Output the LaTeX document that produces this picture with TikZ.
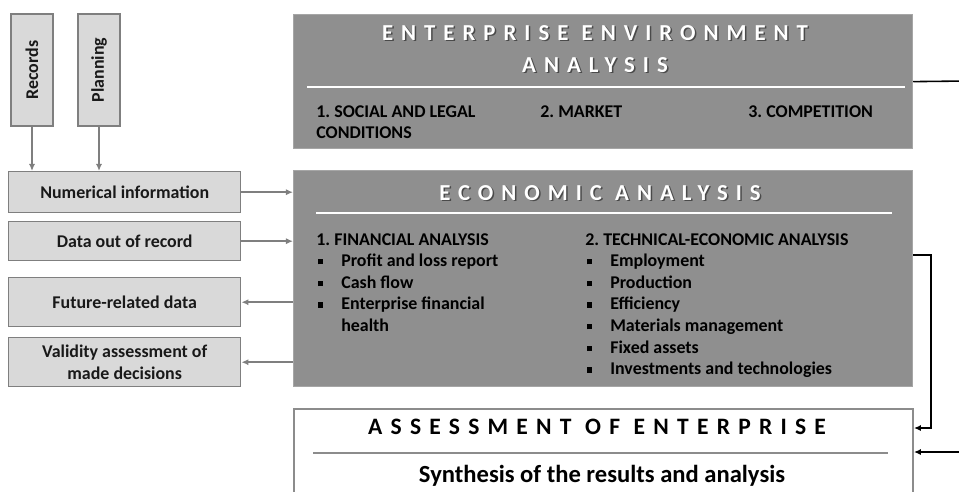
\documentclass[tikz,border=0pt]{standalone}
\usepackage{fontspec}
\setmainfont{Carlito}
\newfontfamily\spacedfont[LetterSpace=35]{Carlito}
\usetikzlibrary{arrows.meta}
\frenchspacing

\newcommand\sqbullet{\rule[0.25ex]{0.3em}{0.3em}}
\newcommand\bitem[1]{\makebox[14.2pt][l]{\hspace{1pt}\sqbullet}#1}
\newcommand\bcont[1]{\makebox[14.2pt][l]{}#1}

\tikzset{
    sidebox/.style={draw=sideBorder, fill=sideFill, line width=0.8pt, inner sep=0pt,
        align=center, text=black!90, font=\fontsize{10.2}{12.3}\selectfont\bfseries},
    bigbox/.style={draw=bigBorder, fill=bigFill, line width=0.7pt, inner sep=0pt},
    endbox/.style={draw=endBorder, fill=white, line width=1.1pt, inner sep=0pt},
    headtext/.style={inner sep=0pt, align=center, font=\fontsize{13}{18.2}\spacedfont\bfseries},
    itemtext/.style={inner sep=0pt, anchor=base west, text=black,
        font=\fontsize{10.2}{12.3}\selectfont\bfseries},
    feed/.style={draw=feedColour, line width=1.1pt, -{Latex[length=4pt,width=3.5pt]}},
    link/.style={draw=black, line width=0.9pt, -{Latex[length=4pt,width=3.5pt]}},
    rule/.style={line width=1.1pt}
}

\begin{document}
\begin{tikzpicture}[x=0.02cm, y=-0.02cm]
    \def\pxl{0.02cm}

    \definecolor{sideFill}{HTML}{D9D9D9}
    \definecolor{sideBorder}{HTML}{7F7F7F}
    \definecolor{bigFill}{HTML}{8F8F8F}
    \definecolor{bigBorder}{HTML}{A6A6A6}
    \definecolor{endBorder}{HTML}{8C8C8C}
    \definecolor{feedColour}{HTML}{7F7F7F}
    \definecolor{shadowColour}{HTML}{4A4A4A}

    \useasboundingbox (0,0) rectangle (959,491);
    \clip (0,0) rectangle (959,491);

    % Sources on the left
    \node[sidebox, rotate=90, minimum width=112*\pxl, minimum height=42*\pxl] (rec) at (32,70) {Records};
    \node[sidebox, rotate=90, minimum width=112*\pxl, minimum height=42*\pxl] (plan) at (99,70) {Planning};

    \node[sidebox, minimum width=232*\pxl, minimum height=41*\pxl, anchor=north west] (num) at (8,171) {Numerical information};
    \node[sidebox, minimum width=232*\pxl, minimum height=39*\pxl, anchor=north west] (data) at (8,221) {Data out of record};
    \node[sidebox, minimum width=232*\pxl, minimum height=49*\pxl, anchor=north west] (fut) at (8,277) {Future-related data};
    \node[sidebox, minimum width=232*\pxl, minimum height=49*\pxl, anchor=north west] (valid) at (8,337) {Validity assessment of\\made decisions};

    % Main analysis blocks
    \node[bigbox, minimum width=619*\pxl, minimum height=134*\pxl, anchor=north west] (env) at (293,14) {};
    \node[bigbox, minimum width=619*\pxl, minimum height=216*\pxl, anchor=north west] (eco) at (293,170) {};
    \node[endbox, minimum width=619*\pxl, minimum height=110*\pxl, anchor=north west] (ass) at (293,408) {};

    % Enterprise environment
    \node[headtext, text=shadowColour] (envShadow) at (596.5,50.5) {ENTERPRISE ENVIRONMENT\\ANALYSIS};
    \node[headtext, text=white] (envTitle) at (595,49) {ENTERPRISE ENVIRONMENT\\ANALYSIS};
    \draw[rule, white] (307,87) -- (905,87);
    \node[itemtext] (envSocial) at (316,117) {\begin{tabular}[t]{@{}l@{}}1. SOCIAL AND LEGAL\\CONDITIONS\end{tabular}};
    \node[itemtext] (envMarket) at (540,117) {2. MARKET};
    \node[itemtext] (envComp) at (748,117) {3. COMPETITION};

    % Economic analysis
    \node[headtext, text=shadowColour] (ecoShadow) at (601.5,194.5) {ECONOMIC ANALYSIS};
    \node[headtext, text=white] (ecoTitle) at (600,193) {ECONOMIC ANALYSIS};
    \draw[rule, white] (316,213) -- (892,213);
    \node[itemtext] (ecoFin) at (316,245) {\begin{tabular}[t]{@{}l@{}}
        1. FINANCIAL ANALYSIS\\
        \bitem{Profit and loss report}\\
        \bitem{Cash flow}\\
        \bitem{Enterprise financial}\\
        \bcont{health}
    \end{tabular}};
    \node[itemtext] (ecoTech) at (585,245) {\begin{tabular}[t]{@{}l@{}}
        2. TECHNICAL-ECONOMIC ANALYSIS\\
        \bitem{Employment}\\
        \bitem{Production}\\
        \bitem{Efficiency}\\
        \bitem{Materials management}\\
        \bitem{Fixed assets}\\
        \bitem{Investments and technologies}
    \end{tabular}};

    % Assessment of enterprise
    \node[headtext, text=black, font=\fontsize{13.4}{16}\spacedfont\bfseries] (assTitle) at (597,427) {ASSESSMENT OF ENTERPRISE};
    \draw[rule, endBorder] (313,453) -- (888,453);
    \node[inner sep=0pt, font=\fontsize{14}{16}\selectfont\bfseries] (synth) at (602,476) {Synthesis of the results and analysis};

    % Feeds between the side boxes and the analysis
    \draw[feed] (rec.west) -- (rec.west |- num.north);
    \draw[feed] (plan.west) -- (plan.west |- num.north);
    \draw[feed] (num.east) -- (num.east -| eco.west);
    \draw[feed] (data.east) -- (data.east -| eco.west);
    \draw[feed] (fut.east -| eco.west) -- (fut.east);
    \draw[feed] (valid.east -| eco.west) -- (valid.east);

    % Links into the assessment
    \coordinate (ecoBend) at (931,255);
    \coordinate (assBend) at (931,428);
    \draw[link] (eco.east |- ecoBend) -- (ecoBend) -- (assBend) -- (assBend -| ass.east);

    \coordinate (envBend) at (966,81);
    \coordinate (assBack) at (966,452);
    \draw[link] (env.east) -- (envBend) -- (assBack) -- (assBack -| ass.east);

\end{tikzpicture}
\end{document}
